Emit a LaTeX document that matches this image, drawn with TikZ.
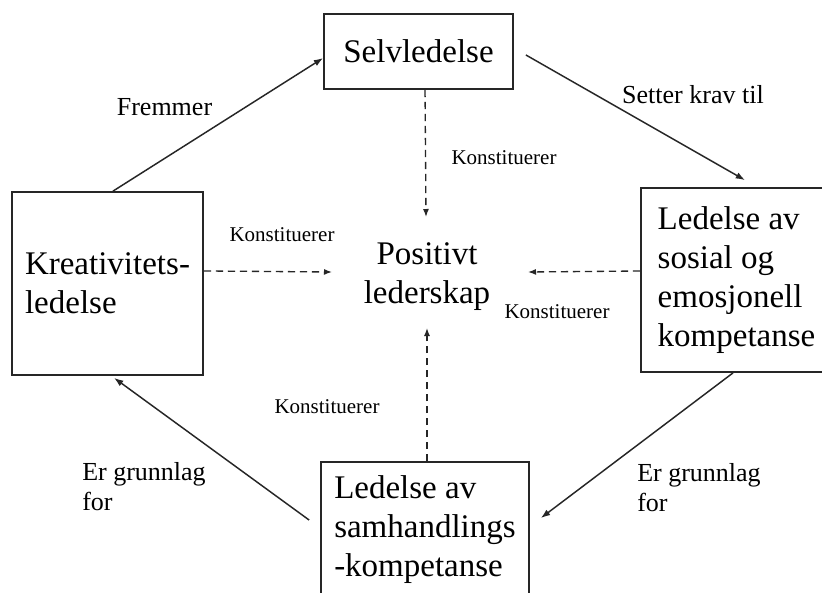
\documentclass[tikz,border=0pt]{standalone}
\usepackage{fontspec}
\setmainfont{Liberation Serif}
\usetikzlibrary{arrows.meta}
\begin{document}
\begin{tikzpicture}[x=0.75pt,y=-0.75pt,
  box/.style={draw=black!85, line width=1.3pt, inner sep=0pt, align=left,
    font=\fontsize{24.75}{29.25}\selectfont},
  arr/.style={draw=black!85, line width=1.1pt, -{Latex[length=7pt,width=5pt]}},
  darr/.style={draw=black!85, line width=1pt, dash pattern=on 5.5pt off 3.5pt, -{Latex[length=6pt,width=4.5pt]}},
  lbl/.style={font=\fontsize{19.5}{22.5}\selectfont, inner sep=0pt, align=left},
  klbl/.style={font=\fontsize{15.75}{18}\selectfont, inner sep=0pt}]
\useasboundingbox (0,0) rectangle (822,593);
\clip (0,0) rectangle (822,593);
\fill[white] (0,0) rectangle (822,593);

\node[box, minimum width=141.75pt, minimum height=56.25pt] (sel) at (418.5,51.5) {Selvledelse};
\node[box, minimum width=143.25pt, minimum height=137.25pt] (kre) at (107.5,283.5) {Kreativitets-\\ledelse};
\node[box, minimum width=143.25pt, minimum height=138pt] (sos) at (736.5,280) {Ledelse av\\sosial og\\emosjonell\\kompetanse};
\node[box, minimum width=156pt, minimum height=101.25pt] (sam) at (425,529.5) {Ledelse av\\samhandlings\\-kompetanse};
\node[font=\fontsize{24.75}{29.25}\selectfont, align=center, inner sep=0pt] (pos) at (427,277) {Positivt\\lederskap};

\coordinate (pT) at (426,217);
\coordinate (pL) at (332,272);
\coordinate (pR) at (528,272);
\coordinate (pB) at (427,328);

\draw[arr] ([xshift=4.1pt]kre.north) -- ([yshift=-4.9pt]sel.west);
\draw[arr] ([xshift=9pt,yshift=-2.6pt]sel.east) -- ([xshift=6.4pt,yshift=5.25pt]sos.north);
\draw[arr] ([xshift=-2.6pt]sos.south) -- ([xshift=8.25pt,yshift=8.6pt]sam.east);
\draw[arr] ([xshift=-8.25pt,yshift=7.1pt]sam.west) -- ([xshift=4.9pt,yshift=-1.5pt]kre.south);

\draw[darr] ([xshift=4.9pt]sel.south) -- (pT);
\draw[darr] ([yshift=9.4pt]kre.east) -- (pL);
\draw[darr] ([yshift=6.75pt]sos.west) -- (pR);
\draw[darr] ([xshift=1.5pt]sam.north) -- (pB);

\node[lbl] (l1) at (164.5,107) {Fremmer};
\node[lbl] (l2) at (693,95) {Setter krav til};
\node[lbl, anchor=west] (l3) at (82,487) {Er grunnlag\\for};
\node[lbl, anchor=west] (l4) at (637,488) {Er grunnlag\\for};

\node[klbl] (k1) at (504,158) {Konstituerer};
\node[klbl] (k2) at (282,235) {Konstituerer};
\node[klbl] (k3) at (557,312) {Konstituerer};
\node[klbl] (k4) at (327,407) {Konstituerer};
\end{tikzpicture}
\end{document}
